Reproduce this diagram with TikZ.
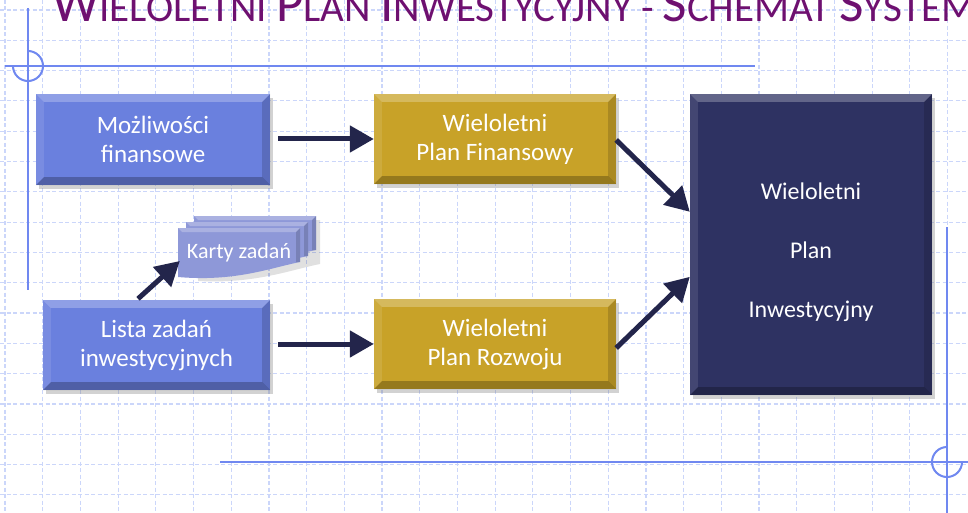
\documentclass[tikz,border=0pt]{standalone}
\usepackage{fontspec}
\setmainfont{Carlito}
\newfontfamily\titlefont{Carlito}
\usetikzlibrary{arrows.meta,shadows,calc}
\definecolor{gridc}{RGB}{203,214,250}
\definecolor{framec}{RGB}{112,136,240}
\definecolor{titlec}{RGB}{110,16,112}
\definecolor{boxblue}{RGB}{106,128,222}
\definecolor{boxgold}{RGB}{200,162,40}
\definecolor{boxnavy}{RGB}{46,50,98}
\definecolor{boxlav}{RGB}{142,152,216}
\definecolor{arrowc}{RGB}{35,37,75}
\newcommand{\bevelize}[2]{%
  \fill[white,opacity=0.25] (#1.north west) -- (#1.north east) -- ($(#1.north east)+(-#2,#2)$) -- ($(#1.north west)+(#2,#2)$) -- cycle;
  \fill[white,opacity=0.10] (#1.north west) -- ($(#1.north west)+(#2,#2)$) -- ($(#1.south west)+(#2,-#2)$) -- (#1.south west) -- cycle;
  \fill[black,opacity=0.15] (#1.north east) -- ($(#1.north east)+(-#2,#2)$) -- ($(#1.south east)+(-#2,-#2)$) -- (#1.south east) -- cycle;
  \fill[black,opacity=0.25] (#1.south west) -- ($(#1.south west)+(#2,-#2)$) -- ($(#1.south east)+(-#2,-#2)$) -- (#1.south east) -- cycle;
}
\newcommand{\SCw}[2]{{\fontsize{53}{53}\selectfont #1}{\fontsize{41}{41}\selectfont #2}}
\newcommand{\kpage}[3]{%
  \fill[#3] (178+#1,228+#2) -- (300+#1,228+#2) -- (300+#1,262+#2) .. controls (270+#1,268+#2) and (235+#1,282+#2) .. (178+#1,277+#2) -- cycle;
  \fill[white,opacity=0.25] (178+#1,228+#2) -- (300+#1,228+#2) -- (296+#1,232+#2) -- (182+#1,232+#2) -- cycle;
  \fill[black,opacity=0.15] (300+#1,228+#2) -- (300+#1,262+#2) -- (296+#1,262+#2) -- (296+#1,232+#2) -- cycle;
}
\begin{document}
\begin{tikzpicture}[x=1pt,y=-1pt,
  gridline/.style={gridc,line width=1.2pt,dash pattern=on 4pt off 2.5pt},
  frameline/.style={framec,line width=2pt},
  boxbase/.style={inner sep=0pt,text=white,align=center,font=\fontsize{25}{29}\selectfont,
    drop shadow={shadow xshift=3pt,shadow yshift=-4pt,opacity=0.35}},
  arr/.style={arrowc,line width=5pt,-{Triangle[length=24pt,width=26pt]}}]
\useasboundingbox (0,0) rectangle (968,513);
\clip (0,0) rectangle (968,513);
\fill[white] (0,0) rectangle (968,513);
% grid
\foreach \i in {0,...,25} \draw[gridline] (5+37.7*\i,0) -- (5+37.7*\i,513);
\foreach \j in {0,...,16} \draw[gridline] (0,10+30.3*\j) -- (968,10+30.3*\j);
% frame lines
\draw[frameline] (5,66) -- (755,66);
\draw[frameline] (28,8) -- (28,290);
\draw[frameline] (28,51) arc[start angle=-90,end angle=180,radius=15];
\draw[frameline] (220,462) -- (968,462);
\draw[frameline] (947,227) -- (947,513);
\draw[frameline] (947,447) arc[start angle=-90,end angle=-360,radius=15];
% title
\node[anchor=base west,inner sep=0pt,text=titlec,font=\titlefont] (title) at (52,22)
  {\SCw{W}{IELOLETNI}\hspace{9pt}\SCw{P}{LAN}\hspace{9pt}\SCw{I}{NWESTYCYJNY}\hspace{9pt}{\fontsize{41}{41}\selectfont -}\hspace{9pt}\SCw{S}{CHEMAT}\hspace{9pt}\SCw{S}{YSTEM}};
% boxes
\node[boxbase,fill=boxblue,minimum width=234pt,minimum height=91pt] (mf) at (153,139.5) {Możliwości\\finansowe};
\bevelize{mf}{8}
\node[boxbase,fill=boxgold,minimum width=242pt,minimum height=90pt] (wpf) at (495,139) {Wieloletni\\Plan Finansowy};
\bevelize{wpf}{8}
\node[boxbase,fill=boxgold,minimum width=242pt,minimum height=90pt] (wpr) at (495,344) {Wieloletni\\Plan Rozwoju};
\bevelize{wpr}{8}
\node[boxbase,fill=boxblue,minimum width=227pt,minimum height=90pt] (lz) at (156.5,345) {Lista zadań\\inwestycyjnych};
\bevelize{lz}{8}
\node[boxbase,fill=boxnavy,minimum width=242pt,minimum height=301pt] (wpi) at (811,244.5) {};
\bevelize{wpi}{8}
\node[inner sep=0pt,text=white,align=center,font=\fontsize{24}{29}\selectfont] (wpitext) at ($(wpi.center)+(0,8)$) {Wieloletni\\[30pt]Plan\\[30pt]Inwestycyjny};
% karty zadan
\fill[black,opacity=0.12] (200,220) -- (320,220) -- (320,264) .. controls (290,270) and (255,284) .. (198,281) -- cycle;
\kpage{16}{-12}{boxlav}
\kpage{8}{-6}{boxlav}
\kpage{0}{0}{boxlav}
\node[inner sep=0pt,minimum width=122pt,minimum height=50pt,text=white,font=\fontsize{22}{26}\selectfont] (karty) at (239,253) {Karty zadań};
% arrows
\draw[arr] ($(mf.east)+(8,-0.5)$) -- (wpf.west);
\draw[arr] ($(lz.east)+(8,-1)$) -- (wpr.west);
\draw[arr] ($(wpf.east)+(0,1)$) -- ($(wpi.north west)+(0,118)$);
\draw[arr] ($(wpr.east)+(0,4)$) -- ($(wpi.north west)+(0,183)$);
\draw[arr] ($(lz.north)+(-18.5,-1)$) -- ($(karty.west)+(2,8)$);
\end{tikzpicture}
\end{document}
